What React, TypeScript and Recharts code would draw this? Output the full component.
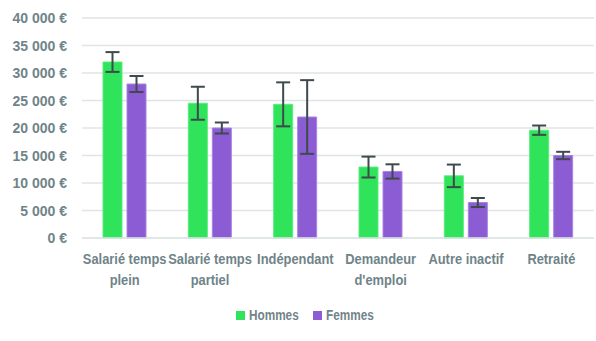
import React from 'react'
import { BarChart, Bar, XAxis, YAxis, CartesianGrid, Legend, ErrorBar } from 'recharts'

const categories = ['Salarié temps\nplein', 'Salarié temps\npartiel', 'Indépendant', 'Demandeur\nd\'emploi', 'Autre inactif', 'Retraité']
const hommes = [32000, 24500, 24300, 12900, 11300, 19600]
const hommesErr = [1800, 3000, 4000, 1900, 2050, 850]
const femmes = [28000, 20000, 22000, 12100, 6450, 15000]
const femmesErr = [1450, 1000, 6700, 1300, 820, 670]
const yTicks = [0, 5000, 10000, 15000, 20000, 25000, 30000, 35000, 40000]

const data = categories.map((name, i) => ({
  name,
  Hommes: hommes[i],
  hErr: hommesErr[i],
  Femmes: femmes[i],
  fErr: femmesErr[i],
}))

const font = "'Liberation Sans', Arial, sans-serif"
const textColor = '#6f8489'
const colors: Record<string, string> = { Hommes: '#2fe35a', Femmes: '#8c5cd4' }

const fmt = (v: number) => String(v).replace(/\B(?=(\d{3})+(?!\d))/g, ' ') + ' €'

const CatTick = (props: any) => {
  const { x, y, payload } = props
  const lines = String(payload.value).split('\n')
  return (
    <g transform={`translate(${x},${y}) scale(0.92,1)`}>
      <text x={0} y={0} textAnchor="middle" fill={textColor} fontSize={14} fontWeight="bold" fontFamily={font}>
        {lines.map((l, i) => (
          <tspan key={i} x={0} dy={i === 0 ? 18 : 21}>{l}</tspan>
        ))}
      </text>
    </g>
  )
}

const YTick = (props: any) => {
  const { x, y, payload } = props
  return (
    <text x={x} y={y} dy={5} textAnchor="end" fill={textColor} fontSize={14} fontWeight="bold" fontFamily={font}>
      {fmt(payload.value)}
    </text>
  )
}

const LegendBox = () => (
  <div style={{ display: 'flex', justifyContent: 'center', alignItems: 'center', height: 20, paddingLeft: 18, fontFamily: font, fontWeight: 'bold', fontSize: 14, color: textColor }}>
    {['Hommes', 'Femmes'].map((k) => (
      <div key={k} style={{ display: 'flex', alignItems: 'center', marginRight: k === 'Hommes' ? 14 : 0 }}>
        <span style={{ display: 'inline-block', width: 9, height: 9, background: colors[k], marginRight: 4 }} />
        <span style={{ display: 'inline-block', width: 50, transform: 'scaleX(0.84)', transformOrigin: 'left center', whiteSpace: 'nowrap' }}>{k}</span>
      </div>
    ))}
  </div>
)

const App = () => {
  return (
    <div style={{ position: 'absolute', left: 0, top: 0, background: '#fff' }}>
      <BarChart
        width={596}
        height={341}
        data={data}
        barSize={19}
        barGap={5}
        margin={{ top: 18, right: 2, left: 0, bottom: 16 }}
      >
        <CartesianGrid vertical={false} stroke="#dfe4e4" strokeWidth={1.5} />
        <XAxis
          dataKey="name"
          interval={0}
          height={67}
          tickLine={false}
          axisLine={{ stroke: '#dfe4e4', strokeWidth: 1.5 }}
          tick={<CatTick />}
        />
        <YAxis
          width={82}
          domain={[0, 40000]}
          ticks={yTicks}
          axisLine={false}
          tickLine={false}
          tickMargin={15}
          tickSize={0}
          tick={<YTick />}
        />
        <Legend verticalAlign="bottom" height={20} content={<LegendBox />} />
        <Bar dataKey="Hommes" fill={colors.Hommes} stroke="#5aec7e" strokeWidth={1} isAnimationActive={false}>
          <ErrorBar dataKey="hErr" width={7} stroke="#3e4a4b" strokeWidth={2} />
        </Bar>
        <Bar dataKey="Femmes" fill={colors.Femmes} stroke="#a884e0" strokeWidth={1} isAnimationActive={false}>
          <ErrorBar dataKey="fErr" width={7} stroke="#3e4a4b" strokeWidth={2} />
        </Bar>
      </BarChart>
    </div>
  )
}

export default App
